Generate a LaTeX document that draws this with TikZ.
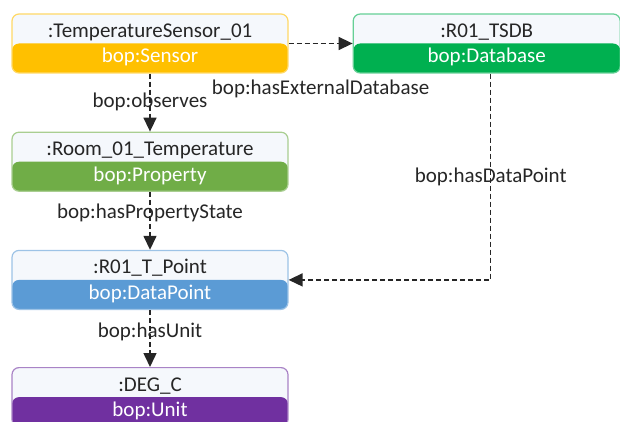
\documentclass[tikz,border=0pt]{standalone}
\usepackage{fontspec}
\setmainfont{Carlito}
\usepackage{tikz}
\usetikzlibrary{positioning, arrows.meta}
\definecolor{SensorOrange}{HTML}{FFC000}
\definecolor{DbGreen}{HTML}{00B050}
\definecolor{PropGreen}{HTML}{70AD47}
\definecolor{PointBlue}{HTML}{5B9BD5}
\definecolor{UnitPurple}{HTML}{7030A0}
\definecolor{TopFill}{HTML}{F5F8FC}
\definecolor{Ink}{HTML}{262626}
\tikzset{
  ob/.style={%
      rectangle, rounded corners=7pt, fill=TopFill, draw=#1!60!white, line width=1.2pt,
      minimum width=276pt, minimum height=59pt, inner sep=0pt,
      path picture={\fill[#1] (path picture bounding box.west) rectangle (path picture bounding box.south east);}
  },
  nm/.style={text=Ink, font=\fontsize{21}{25}\selectfont, inner sep=0pt, anchor=base},
  ty/.style={text=white, font=\fontsize{21}{25}\selectfont, inner sep=0pt, anchor=base},
  lb/.style={text=Ink, font=\fontsize{21}{25}\selectfont, inner sep=0pt},
  rel/.style={%
      draw=Ink, line width=1.5pt, dash pattern=on 5pt off 3pt,
      -{Triangle[length=14pt,width=13pt]}
  }
}

\begin{document}
\begin{tikzpicture}[x=1pt, y=1pt]
    \useasboundingbox (0,0) rectangle (620,421);

    % object boxes
    \node[ob=SensorOrange]                      (sensor) at (150,377.5) {};
    \node[ob=PropGreen]  (room)  [below=58pt of sensor] {};
    \node[ob=PointBlue]  (point) [below=58pt of room]   {};
    \node[ob=UnitPurple] (unit)  [below=57pt of point]  {};
    \node[ob=DbGreen, minimum width=267pt] (db) [right=64pt of sensor] {};

    % names and types
    \node[nm] (sensor-nm) at ([yshift=6pt]sensor.center)   {:TemperatureSensor\_01};
    \node[ty] (sensor-ty) at ([yshift=-19.5pt]sensor.center) {bop:Sensor};
    \node[nm] (room-nm)   at ([yshift=6pt]room.center)     {:Room\_01\_Temperature};
    \node[ty] (room-ty)   at ([yshift=-19.5pt]room.center)   {bop:Property};
    \node[nm] (point-nm)  at ([yshift=6pt]point.center)    {:R01\_T\_Point};
    \node[ty] (point-ty)  at ([yshift=-19.5pt]point.center)  {bop:DataPoint};
    \node[nm] (unit-nm)   at ([yshift=6pt]unit.center)     {:DEG\_C};
    \node[ty] (unit-ty)   at ([yshift=-19.5pt]unit.center)   {bop:Unit};
    \node[nm] (db-nm)     at ([yshift=6pt]db.center)       {:R01\_TSDB};
    \node[ty] (db-ty)     at ([yshift=-19.5pt]db.center)     {bop:Database};

    \path (sensor) edge[rel] node[lb, pos=0.48] {bop:observes} (room)
          (room)   edge[rel] node[lb, pos=0.36] {bop:hasPropertyState} (point)
          (point)  edge[rel] node[lb, pos=0.39] {bop:hasUnit} (unit)
          (sensor.east) edge[rel] node[lb, below=36pt] {bop:hasExternalDatabase} (db.west)
    ;
    \draw[rel] ([xshift=4pt]db.south) |- node[lb, pos=0.25] {bop:hasDataPoint} (point.east);

\end{tikzpicture}
\end{document}
